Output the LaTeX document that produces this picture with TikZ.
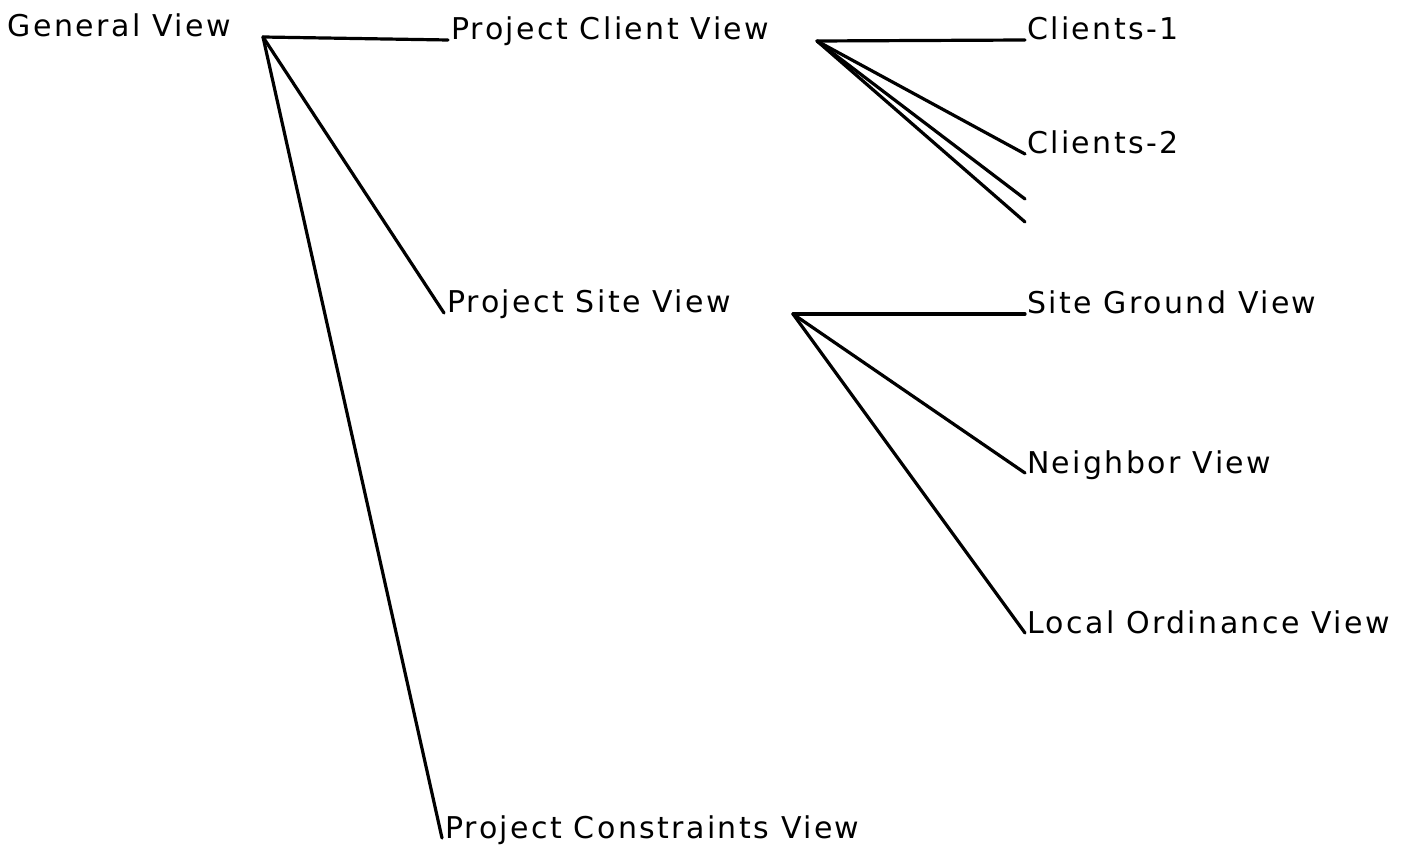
\documentclass[tikz,border=0pt]{standalone}
\usepackage{fontspec}
\setmainfont[LetterSpace=8]{DejaVu Sans}
\begin{document}
\begin{tikzpicture}[x=1pt,y=-1pt,
  lbl/.style={anchor=base west,inner sep=0pt,outer sep=0pt,font=\fontsize{30}{32}\selectfont},
  edge/.style={line width=3.2pt,line cap=round,line join=round}]
\useasboundingbox (0,0) rectangle (1406,850);
% labels
\node[lbl] (gv)  at (8,37)    {General View};
\node[lbl] (pcv) at (451,40)  {Project Client View};
\node[lbl] (psv) at (447,313) {Project Site View};
\node[lbl] (pkv) at (445,838) {Project Constraints View};
\node[lbl] (c1)  at (1027,40)  {Clients-1};
\node[lbl] (c2)  at (1027,154) {Clients-2};
\node[lbl] (sgv) at (1027,314) {Site Ground View};
\node[lbl] (nv)  at (1027,473) {Neighbor View};
\node[lbl] (lov) at (1027,633) {Local Ordinance View};
% branching points
\coordinate (hgv)  at (263,37);
\coordinate (hpcv) at (817,41);
\coordinate (hpsv) at (793,314);
\coordinate (e1) at (1025,199);
\coordinate (e2) at (1025,222);
% connectors
\draw[edge] (hgv) -- ([xshift=-3pt]pcv.base west);
\draw[edge] (hgv) -- ([xshift=-3pt]psv.base west);
\draw[edge] (hgv) -- ([xshift=-3pt]pkv.base west);
\draw[edge] (hpcv) -- ([xshift=-2pt]c1.base west);
\draw[edge] (hpcv) -- ([xshift=-2pt]c2.base west);
\draw[edge] (hpcv) -- (e1);
\draw[edge] (hpcv) -- (e2);
\draw[edge] (hpsv) -- ([xshift=-2pt]sgv.base west);
\draw[edge] (hpsv) -- ([xshift=-2pt]nv.base west);
\draw[edge] (hpsv) -- ([xshift=-2pt]lov.base west);
\end{tikzpicture}
\end{document}
